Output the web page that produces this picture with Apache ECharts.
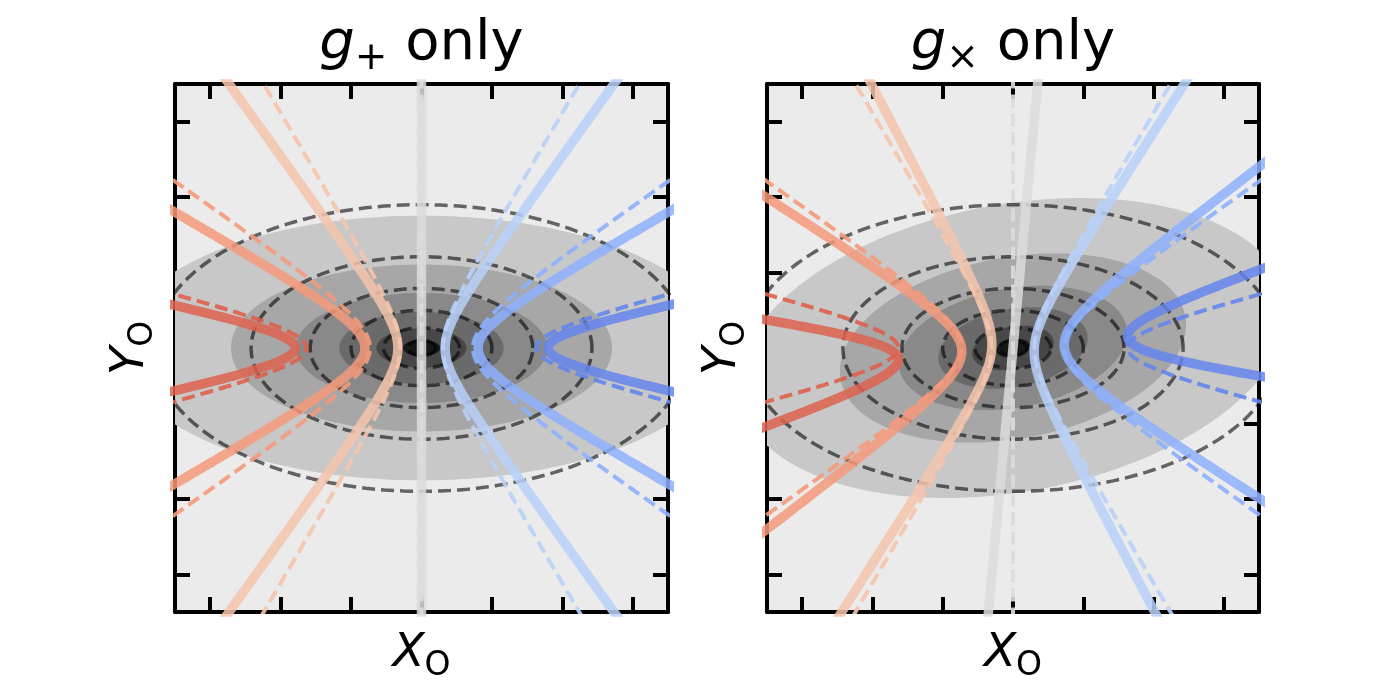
<!DOCTYPE html>
<html><head><meta charset="utf-8">
<script src="https://cdn.jsdelivr.net/npm/echarts@6/dist/echarts.min.js"></script>
<style>html,body{margin:0;padding:0;background:#fff}#chart{width:1400px;height:700px}</style>
</head><body><div id="chart"></div>
<script>
// ---------------- values ----------------
const panelSubscripts = ['+', '\u00d7'];          // g subscript in each panel title
const shearG = 0.1;                                // shear amplitude (g+ left, g× right)
const axisMin = -3.5, axisMax = 3.5;
const tickValues = [-3, -2, -1, 0, 1, 2, 3];
// intrinsic elliptical contours: semi-minor axis b (semi-major = ratio * b)
const contourRatio = 2;
const dashedLevelB = [1.9, 1.21, 0.79, 0.5, 0.27, 0.1];
const filledLevelB = [1.95, 1.23, 0.81, 0.53, 0.29, 0.12];
const filledColors = ['#c8c8c8', '#a7a7a7', '#898989', '#6a6a6a', '#474747', '#171717'];
// intrinsic hyperbola branches x^2/A^2 - y^2/B^2 = 1 (side -1: opens left, +1: right, 0: line x=0)
const curveSide = [-1, -1, -1, 0, 1, 1, 1];
const curveA = [1.63, 0.73, 0.305, 0, 0.305, 0.73, 1.63];
const curveB = [0.373, 0.471, 0.481, 1, 0.481, 0.471, 0.373];
const curveColors = ['#de614d', '#f49a7b', '#f5c4ac', '#dcdcdc', '#b9d0f9', '#8db0fe', '#6485ec'];

// ---------------- geometry helpers ----------------
const shearMaps = [
  p => [(1 + shearG) * p[0], (1 - shearG) * p[1]],   // g+ only
  p => [p[0] + shearG * p[1], p[1] + shearG * p[0]]  // g× only
];
function ellipsePts(b) {
  const pts = [];
  for (let k = 0; k <= 360; k += 2) {
    const t = k * Math.PI / 180;
    pts.push([contourRatio * b * Math.cos(t), b * Math.sin(t)]);
  }
  return pts;
}
function curvePts(i) {
  const pts = [];
  for (let k = -200; k <= 200; k++) {
    const t = k * 0.02;
    if (curveSide[i] === 0) pts.push([0, curveB[i] * Math.sinh(t)]);
    else pts.push([curveSide[i] * curveA[i] * Math.cosh(t), curveB[i] * Math.sinh(t)]);
  }
  return pts;
}

const F = 'DejaVu Sans';
const grids = [], xAxes = [], yAxes = [], series = [], graphics = [];
const gridLeft = [175, 767], gridW = [493, 492];
function axisCfg(gi, pos) {
  return {
    type: 'value', gridIndex: gi, position: pos, min: axisMin, max: axisMax,
    minInterval: 1, maxInterval: 1,
    axisLine: { show: true, onZero: false, lineStyle: { color: '#000', width: 4 } },
    axisTick: { show: true, inside: true, length: 15, customValues: tickValues, lineStyle: { color: '#000', width: 4 } },
    axisLabel: { show: false }, splitLine: { show: false }
  };
}
for (let p = 0; p < 2; p++) {
  grids.push({ left: gridLeft[p], top: 84, width: gridW[p], height: 528, show: true, backgroundColor: '#ebebeb', borderWidth: 0 });
  xAxes.push(axisCfg(p, 'bottom'), axisCfg(p, 'top'));
  yAxes.push(axisCfg(p, 'left'), axisCfg(p, 'right'));
  const xi = 2 * p, yi = 2 * p;
  const map = shearMaps[p];
  // filled contours (sheared distribution)
  series.push({
    type: 'custom', xAxisIndex: xi, yAxisIndex: yi, silent: true,
    data: filledLevelB.map((b, i) => [b, i]),
    renderItem: function (params, api) {
      const b = api.value(0), i = api.value(1);
      const pts = ellipsePts(b).map(q => api.coord(map(q)));
      const cs = params.coordSys;
      return {
        type: 'polygon', shape: { points: pts }, style: { fill: filledColors[i] },
        clipPath: { type: 'rect', shape: { x: cs.x, y: cs.y, width: cs.width, height: cs.height } }
      };
    }
  });
  // dashed intrinsic contours
  dashedLevelB.forEach(b => series.push({
    type: 'line', xAxisIndex: xi, yAxisIndex: yi, data: ellipsePts(b), showSymbol: false, symbol: 'none',
    silent: true, lineStyle: { type: [13, 6], width: 3.5, color: 'rgba(0,0,0,0.58)' }
  }));
  // dashed intrinsic curves
  curveSide.forEach((s, i) => series.push({
    type: 'line', xAxisIndex: xi, yAxisIndex: yi, data: curvePts(i), showSymbol: false, symbol: 'none',
    silent: true, lineStyle: { type: [13, 6], width: 4, color: curveColors[i], opacity: 0.9 }
  }));
  // solid sheared curves
  curveSide.forEach((s, i) => series.push({
    type: 'line', xAxisIndex: xi, yAxisIndex: yi, data: curvePts(i).map(map), showSymbol: false, symbol: 'none',
    silent: true, lineStyle: { type: 'solid', width: 9.5, color: curveColors[i], opacity: 0.85 }
  }));
  const cx = gridLeft[p] + gridW[p] / 2;
  const richTitle = {
    m: { fontFamily: F, fontStyle: 'italic', fontSize: 56, lineHeight: 68, fill: '#000' },
    s: { fontFamily: F, fontSize: 39, lineHeight: 44, verticalAlign: 'bottom', fill: '#000' },
    t: { fontFamily: F, fontSize: 56, lineHeight: 68, fill: '#000' }
  };
  const richLabel = {
    m: { fontFamily: F, fontStyle: 'italic', fontSize: 47, lineHeight: 57, fill: '#000' },
    s: { fontFamily: F, fontSize: 33, lineHeight: 37, verticalAlign: 'bottom', fill: '#000' }
  };
  graphics.push({
    type: 'text', x: cx, y: 44,
    style: { text: '{m|g}{s|' + panelSubscripts[p] + '}{t| only}', rich: richTitle, align: 'center', verticalAlign: 'middle' }
  });
  graphics.push({
    type: 'text', x: cx, y: 654,
    style: { text: '{m|X}{s|O}', rich: richLabel, align: 'center', verticalAlign: 'middle' }
  });
  graphics.push({
    type: 'text', x: gridLeft[p] - 44, y: 348, rotation: Math.PI / 2,
    style: { text: '{m|Y}{s|O}', rich: richLabel, align: 'center', verticalAlign: 'middle' }
  });
}

const chart = echarts.init(document.getElementById('chart'), null, { renderer: 'canvas' });
chart.setOption({
  animation: false,
  backgroundColor: '#ffffff',
  grid: grids, xAxis: xAxes, yAxis: yAxes, series: series, graphic: graphics
});
</script></body></html>
